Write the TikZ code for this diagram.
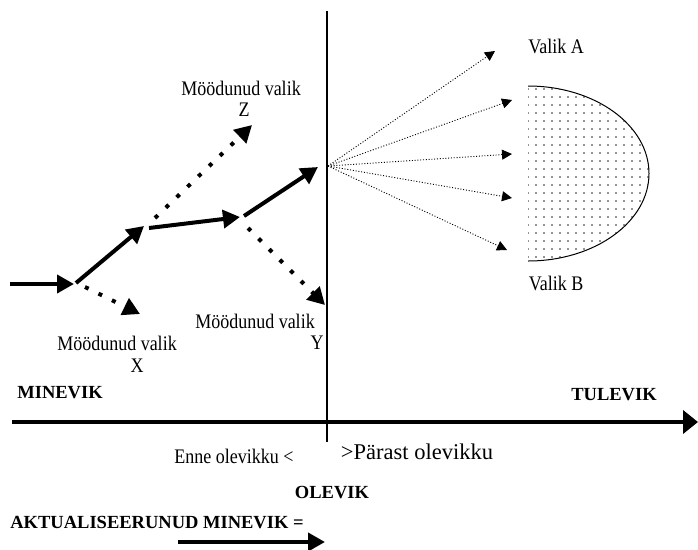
\documentclass[tikz,border=0pt]{standalone}
\usepackage{fontspec}
\setmainfont{Liberation Serif}
\usetikzlibrary{arrows.meta}
\newcommand{\talltext}[1]{\scalebox{1}[1.15]{#1}}
\tikzset{
  lbl/.style={inner sep=0pt, font=\fontsize{18}{20}\selectfont},
  blbl/.style={inner sep=0pt, font=\fontsize{18.5}{20}\selectfont\bfseries},
  bigarrow/.style={line width=4pt, -{Triangle[length=17pt,width=18pt]}},
  axisarrow/.style={line width=4pt, -{Triangle[length=15pt,width=23pt]}},
  dotarrow/.style={line width=4pt, dash pattern=on 4pt off 11pt, -{Triangle[length=17pt,width=18pt]}},
  fanarrow/.style={line width=0.9pt, dash pattern=on 1pt off 1.8pt, -{Triangle[length=10pt,width=10pt]}},
}
\begin{document}
\begin{tikzpicture}[x=1pt,y=-1pt]
\useasboundingbox (0,0) rectangle (698,549);
% coordinates
\coordinate (c0) at (10,284);
\coordinate (c1) at (74,284);
\coordinate (s2) at (76,283);
\coordinate (t2) at (144,226);
\coordinate (s3) at (149,228);
\coordinate (t3) at (240,217);
\coordinate (s4) at (244,216);
\coordinate (t4) at (318,167);
\coordinate (dx0) at (85,287);
\coordinate (dx1) at (140,314);
\coordinate (dz0) at (155,218);
\coordinate (dz1) at (252,125);
\coordinate (dy0) at (248,228);
\coordinate (dy1) at (325,305);
\coordinate (v0) at (327,11);
\coordinate (v1) at (327,442);
\coordinate (a0) at (12,422);
\coordinate (a1) at (698,422);
\coordinate (b0) at (178,542);
\coordinate (b1) at (325,542);
\coordinate (o) at (328,166);
\coordinate (f1) at (495,51);
\coordinate (f2) at (512,100);
\coordinate (f3) at (512,154);
\coordinate (f4) at (512,198);
\coordinate (f5) at (507,250);
\coordinate (etop) at (528,86);
% dotted half ellipse
\begin{scope}
\clip (etop) arc[start angle=90, end angle=-90, x radius=121pt, y radius=87.5pt] -- cycle;
\foreach \xx in {528,536,...,656} {
  \foreach \yy in {89,97,...,265} {
    \fill[black!85] (\xx,\yy) circle[radius=0.95pt];
  }
}
\end{scope}
\draw[line width=1pt] (etop) arc[start angle=90, end angle=-90, x radius=121pt, y radius=87.5pt];
% vertical present line
\draw[line width=1.1pt] (v0) -- (v1);
% time axis
\draw[axisarrow] (a0) -- (a1);
% path of actualised past
\draw[bigarrow] (c0) -- (c1);
\draw[bigarrow] (s2) -- (t2);
\draw[bigarrow] (s3) -- (t3);
\draw[bigarrow] (s4) -- (t4);
% past options
\draw[dotarrow] (dx0) -- (dx1);
\draw[dotarrow] (dz0) -- (dz1);
\draw[dotarrow] (dy0) -- (dy1);
% future fan
\draw[fanarrow] (o) -- (f1);
\draw[fanarrow] (o) -- (f2);
\draw[fanarrow] (o) -- (f3);
\draw[fanarrow] (o) -- (f4);
\draw[fanarrow] (o) -- (f5);
% legend arrow
\draw[bigarrow] (b0) -- (b1);
% labels
\node[lbl] (mx) at (117,343) {\talltext{Möödunud valik}};
\node[lbl] (xl) at (137,366) {\talltext{X}};
\node[lbl] (my) at (255,321) {\talltext{Möödunud valik}};
\node[lbl] (yl) at (317,343) {\talltext{Y}};
\node[lbl] (mz) at (241,88) {\talltext{Möödunud valik}};
\node[lbl] (zl) at (244,110) {\talltext{Z}};
\node[lbl] (va) at (556,46) {\talltext{Valik A}};
\node[lbl] (vb) at (556,283) {\talltext{Valik B}};
\node[blbl] (min) at (60,393) {MINEVIK};
\node[blbl] (tul) at (614,395) {TULEVIK};
\node[lbl] (enne) at (234,456) {\talltext{Enne olevikku <}};
\node[lbl, font=\fontsize{22.5}{24}\selectfont] (parast) at (417,452) {>Pärast olevikku};
\node[blbl] (olev) at (332,493) {OLEVIK};
\node[blbl] (akt) at (157,523) {AKTUALISEERUNUD MINEVIK =};
\end{tikzpicture}
\end{document}
